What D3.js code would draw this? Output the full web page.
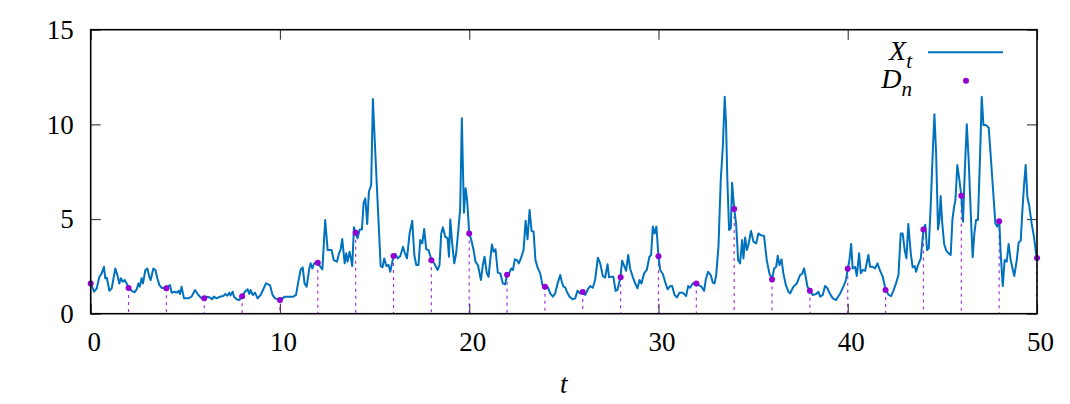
<!DOCTYPE html>
<html>
<head>
<meta charset="utf-8">
<script src="https://cdn.jsdelivr.net/npm/d3@7"></script>
<style>
  body { margin: 0; background: #fff; }
  svg { display: block; font-family: "Liberation Serif", "DejaVu Serif", serif; }
</style>
</head>
<body>
<div id="chart"></div>
<script>
// time grid of the X_t trace
const tSeries = [
  0, 0.18, 0.32, 0.46, 0.58, 0.7, 0.77, 0.85, 0.99, 1.11, 1.3, 1.41, 1.51, 1.6, 1.69, 1.8, 1.9,
  2.0, 2.17, 2.31, 2.43, 2.52, 2.59, 2.69, 2.76, 2.89, 2.99, 3.1, 3.17, 3.31, 3.42, 3.52, 3.63, 3.75, 3.87, 3.98,
  4.1, 4.19, 4.28, 4.42, 4.54, 4.65, 4.72, 4.8, 4.93, 5.16, 5.33, 5.51, 5.69, 5.86,
  6.0, 6.13, 6.3, 6.41, 6.51, 6.65, 6.83, 7.0, 7.11, 7.22, 7.32, 7.39, 7.5, 7.57, 7.71, 7.85,
  8.0, 8.15, 8.29, 8.38, 8.45, 8.56, 8.68, 8.82, 8.98, 9.12, 9.26, 9.47, 9.61, 9.74,
  10.0, 10.26, 10.7, 10.85, 10.97, 11.09, 11.2, 11.3, 11.41, 11.55, 11.62, 11.71, 11.81,
  12.0, 12.13, 12.24, 12.39, 12.52, 12.61, 12.73, 12.84, 13.01, 13.12, 13.2, 13.29, 13.42, 13.5, 13.57, 13.68, 13.75, 13.82, 13.91,
  14.0, 14.1, 14.21, 14.33, 14.42, 14.51, 14.61, 14.7, 14.82, 14.91, 15.04, 15.18, 15.32, 15.42, 15.51, 15.62, 15.74, 15.83,
  16.0, 16.11, 16.22, 16.36, 16.5, 16.58, 16.71, 16.85, 16.99, 17.1, 17.2, 17.32, 17.41, 17.52, 17.62, 17.73, 17.85,
  18.01, 18.15, 18.33, 18.43, 18.52, 18.61, 18.73, 18.86, 18.93, 19.0, 19.1, 19.21, 19.31, 19.44, 19.52, 19.61, 19.72, 19.81, 19.89,
  20.0, 20.11, 20.23, 20.33, 20.46, 20.62, 20.72, 20.81, 20.93, 21.02, 21.11, 21.2, 21.29, 21.39, 21.51, 21.64, 21.78, 21.9,
  22.0, 22.11, 22.22, 22.31, 22.41, 22.52, 22.62, 22.73, 22.87, 22.98, 23.08, 23.19, 23.29, 23.4, 23.5, 23.63, 23.75, 23.87,
  24.0, 24.14, 24.28, 24.42, 24.54, 24.67, 24.81, 24.89, 24.98, 25.07, 25.16, 25.3, 25.46, 25.6, 25.72, 25.86,
  26.0, 26.13, 26.27, 26.39, 26.53, 26.65, 26.8, 26.92, 27.06, 27.18, 27.31, 27.39, 27.5, 27.62, 27.73, 27.83,
  27.99, 28.08, 28.19, 28.29, 28.4, 28.5, 28.64, 28.77, 28.89, 29.0, 29.1, 29.24, 29.38, 29.52, 29.61, 29.7, 29.79, 29.89,
  30.0, 30.09, 30.23, 30.35, 30.48, 30.62, 30.72, 30.85, 30.97, 31.11, 31.29, 31.46, 31.57, 31.67, 31.81,
  31.99, 32.13, 32.27, 32.41, 32.5, 32.62, 32.76, 32.87, 32.96, 33.05, 33.17, 33.29, 33.4, 33.5, 33.57, 33.64, 33.73, 33.82, 33.89,
  34.0, 34.1, 34.21, 34.31, 34.42, 34.49, 34.58, 34.67, 34.75, 34.89, 35.02, 35.16, 35.28, 35.4, 35.58, 35.72, 35.86,
  36.0, 36.11, 36.22, 36.3, 36.39, 36.5, 36.6, 36.73, 36.87, 36.95, 37.13, 37.31, 37.48, 37.59, 37.69, 37.78, 37.87,
  38.01, 38.15, 38.33, 38.45, 38.54, 38.68, 38.8, 38.93, 39.03, 39.21, 39.38, 39.6, 39.77, 39.91,
  40.0, 40.09, 40.18, 40.26, 40.39, 40.48, 40.6, 40.69, 40.79, 40.92, 41.09, 41.18, 41.32, 41.44, 41.57, 41.71, 41.85,
  42.0, 42.17, 42.29, 42.41, 42.55, 42.68, 42.8, 42.9, 43.01, 43.1, 43.2, 43.33, 43.43, 43.54, 43.61, 43.73, 43.86,
  44.0, 44.1, 44.19, 44.28, 44.38, 44.49, 44.58, 44.67, 44.77, 44.84, 44.91, 44.98, 45.09, 45.19, 45.33, 45.44, 45.53, 45.62, 45.69, 45.79, 45.9,
  46.0, 46.09, 46.18, 46.29, 46.39, 46.5, 46.6, 46.69, 46.78, 46.88, 46.99, 47.08, 47.17, 47.31, 47.45, 47.57, 47.69, 47.8, 47.9,
  48.01, 48.08, 48.19, 48.29, 48.4, 48.5, 48.61, 48.71, 48.8, 48.93, 49.03, 49.14, 49.23, 49.31, 49.4, 49.49, 49.59, 49.72, 49.84, 49.98
];

// X_t values, same order as tSeries
const xSeries = [
  1.6, 1.16, 1.34, 1.95, 2.13, 2.48, 1.87, 1.9, 1.21, 1.34, 2.39, 2.04, 1.6, 1.87, 1.69, 1.78, 1.6,
  1.36, 1.21, 1.13, 1.29, 1.6, 1.43, 1.87, 1.6, 2.31, 2.39, 1.95, 1.78, 2.39, 2.31, 1.87, 1.51, 1.37, 1.34, 1.34,
  1.46, 1.51, 1.11, 1.16, 1.11, 1.21, 1.04, 1.43, 0.81, 0.81, 0.9, 1.25, 0.99, 0.81,
  0.81, 0.9, 0.86, 0.76, 0.9, 0.81, 0.9, 0.93, 1.04, 0.95, 1.11, 0.97, 1.16, 0.9, 0.76, 0.72,
  0.9, 1.16, 1.29, 1.04, 1.25, 0.99, 1.11, 0.81, 0.99, 1.29, 1.6, 1.51, 0.99, 0.81,
  0.72, 0.9, 0.9, 0.99, 1.69, 2.31, 2.45, 1.6, 1.43, 2.39, 2.66, 2.39, 2.66,
  2.69, 2.48, 2.34, 4.95, 3.36, 3.36, 3.36, 2.83, 2.75, 3.19, 3.36, 3.94, 2.66, 3.19, 2.75, 3.27, 2.92, 2.52, 4.56,
  4.28, 3.98, 4.45, 4.45, 5.86, 6.09, 4.74, 6.44, 6.8, 11.34, 8.47, 5.48, 2.52, 2.45, 2.92, 2.52, 2.57, 2.22,
  3.05, 3.15, 2.92, 3.05, 3.54, 3.27, 2.92, 4.24, 4.91, 3.1, 2.57, 2.57, 3.89, 3.71, 4.47, 3.4, 3.36,
  2.82, 2.66, 2.31, 2.57, 4.24, 4.56, 4.07, 3.98, 3.01, 4.98, 3.71, 2.66, 3.19, 4.6, 5.48, 10.32, 5.33, 6.62, 6.0,
  4.24, 3.89, 3.36, 2.75, 2.57, 1.78, 2.57, 3.01, 2.13, 1.95, 2.83, 3.66, 3.27, 3.4, 2.17, 2.13, 1.6, 1.55,
  2.06, 2.13, 2.39, 2.31, 2.87, 2.83, 2.66, 2.92, 3.36, 4.91, 3.93, 5.48, 4.38, 4.33, 2.83, 2.39, 2.13, 1.51,
  1.43, 1.43, 1.07, 0.9, 1.07, 1.6, 2.04, 1.69, 1.43, 1.39, 1.16, 0.9, 0.76, 0.81, 1.21, 1.07,
  1.14, 0.99, 1.29, 1.46, 1.37, 1.78, 2.96, 2.66, 1.99, 1.9, 2.61, 1.92, 1.95, 1.95, 1.21, 1.25,
  1.92, 2.8, 2.52, 2.27, 3.1, 2.39, 1.95, 1.6, 1.34, 1.78, 1.6, 2.13, 2.31, 3.01, 3.1, 4.6, 4.24, 4.6,
  3.03, 2.31, 2.1, 1.69, 1.29, 1.46, 1.46, 0.99, 0.86, 1.11, 1.11, 0.93, 1.46, 1.37, 1.6,
  1.6, 1.51, 1.43, 1.21, 1.81, 2.22, 2.04, 1.64, 1.6, 2.04, 3.54, 7.06, 8.82, 11.46, 10.05, 7.06, 4.42, 4.51, 6.92,
  5.53, 4.77, 2.83, 2.66, 3.89, 2.92, 4.03, 3.36, 3.63, 4.37, 3.8, 3.71, 4.24, 4.15, 4.1, 2.83, 2.13,
  1.8, 2.39, 2.48, 3.06, 2.57, 2.87, 2.13, 1.51, 1.16, 1.07, 1.43, 1.6, 2.04, 2.1, 2.39, 1.95, 1.43,
  1.21, 0.99, 1.04, 1.16, 0.9, 0.99, 1.46, 1.34, 1.11, 0.81, 0.72, 1.07, 1.43, 1.78,
  2.38, 2.83, 3.68, 2.39, 2.48, 1.99, 3.19, 2.13, 2.31, 2.27, 3.1, 2.48, 2.48, 2.39, 2.66, 2.27, 1.95,
  1.25, 0.99, 0.93, 1.21, 1.6, 2.04, 4.24, 4.24, 3.36, 2.92, 4.74, 3.19, 2.45, 2.52, 2.22, 2.61, 2.92,
  4.45, 4.7, 3.36, 3.45, 5.65, 8.47, 10.53, 8.47, 4.45, 4.95, 6.21, 4.95, 3.71, 3.36, 3.19, 3.1, 4.95, 5.65, 6.0, 7.85, 7.06,
  6.23, 4.86, 7.41, 10.0, 8.12, 5.3, 2.98, 4.24, 4.95, 4.95, 8.29, 11.46, 9.96, 9.96, 9.82, 8.12, 6.36, 4.77, 4.6,
  4.88, 3.19, 1.46, 2.83, 2.75, 3.68, 2.83, 2.39, 1.99, 2.83, 3.75, 3.86, 5.48, 6.71, 7.85, 6.18, 5.69, 4.74, 4.07, 2.94
];

// sampled points D_n at the even times
const nTimes = [0, 2, 4, 6, 8, 10, 12, 14, 16, 18, 20, 22, 24, 26, 28, 30, 32, 34, 36, 38, 40, 42, 44, 46, 48, 50];
const dValues = [1.6, 1.36, 1.34, 0.81, 0.92, 0.72, 2.69, 4.28, 3.05, 2.82, 4.24, 2.06, 1.43, 1.14, 1.92, 3.03, 1.6, 5.53, 1.8, 1.21, 2.38, 1.25, 4.45, 6.23, 4.88, 2.94];

const xTicks = [0, 10, 20, 30, 40, 50];
const yTicks = [0, 5, 10, 15];

const W = 1070, H = 404;
const plotLeft = 90.7, plotRight = 1037, plotTop = 29.7, plotBottom = 313.7;
const lineColor = "#0072bd";
const pointColor = "#9400d3";

const svg = d3.select("#chart").append("svg").attr("width", W).attr("height", H);

const xScale = d3.scaleLinear().domain([0, 50]).range([plotLeft, plotRight]);
const yScale = d3.scaleLinear().domain([0, 15]).range([plotBottom, plotTop]);

// inward ticks on all four sides, labels only bottom and left
const xAxis = d3.axisBottom(xScale).tickValues(xTicks).tickSize(-10).tickPadding(18).tickFormat(d3.format("d"));
const yAxis = d3.axisLeft(yScale).tickValues(yTicks).tickSize(-10).tickPadding(17).tickFormat(d3.format("d"));
const xAxisTop = d3.axisTop(xScale).tickValues(xTicks).tickSize(-10).tickFormat("");
const yAxisRight = d3.axisRight(yScale).tickValues(yTicks).tickSize(-10).tickFormat("");

function styleAxis(g) {
  g.select(".domain").remove();
  g.selectAll(".tick line").attr("stroke", "#444").attr("stroke-width", 1.2);
  g.selectAll(".tick text").attr("fill", "#000").style("font-size", "27px").style("font-family", "Liberation Serif");
}

svg.append("g").attr("transform", "translate(0," + plotBottom + ")").call(xAxis).call(styleAxis)
  .selectAll(".tick text").attr("dx", 3);
svg.append("g").attr("transform", "translate(" + plotLeft + ",0)").call(yAxis).call(styleAxis);
svg.append("g").attr("transform", "translate(0," + plotTop + ")").call(xAxisTop).call(styleAxis);
svg.append("g").attr("transform", "translate(" + plotRight + ",0)").call(yAxisRight).call(styleAxis);

// drop lines from D_n down to zero
svg.append("g")
  .selectAll("line")
  .data(nTimes)
  .enter()
  .append("line")
  .attr("x1", d => xScale(d))
  .attr("x2", d => xScale(d))
  .attr("y1", (d, i) => yScale(dValues[i]))
  .attr("y2", yScale(0))
  .attr("stroke", pointColor)
  .attr("stroke-width", 1.2)
  .attr("stroke-dasharray", "3,4")
  .attr("opacity", 0.8);

const line = d3.line()
  .x((d, i) => xScale(tSeries[i]))
  .y(d => yScale(d));

svg.append("path")
  .datum(xSeries)
  .attr("d", line)
  .attr("fill", "none")
  .attr("stroke", lineColor)
  .attr("stroke-width", 2)
  .attr("stroke-linejoin", "round");

svg.append("g")
  .selectAll("circle")
  .data(nTimes)
  .enter()
  .append("circle")
  .attr("cx", d => xScale(d))
  .attr("cy", (d, i) => yScale(dValues[i]))
  .attr("r", 3)
  .attr("fill", pointColor);

// frame
svg.append("rect")
  .attr("x", plotLeft)
  .attr("y", plotTop)
  .attr("width", plotRight - plotLeft)
  .attr("height", plotBottom - plotTop)
  .attr("fill", "none")
  .attr("stroke", "#000")
  .attr("stroke-width", 1.6);

// legend
const legend = svg.append("g").style("font-style", "italic").style("font-family", "Liberation Serif");
const lx = legend.append("text").attr("x", 912).attr("y", 60).attr("text-anchor", "end").style("font-size", "28px");
lx.append("tspan").text("X");
lx.append("tspan").attr("dy", 8).style("font-size", "21px").text("t");
legend.append("line")
  .attr("x1", 928).attr("x2", 1003).attr("y1", 52.3).attr("y2", 52.3)
  .attr("stroke", lineColor).attr("stroke-width", 2);

const ld = legend.append("text").attr("x", 912).attr("y", 88).attr("text-anchor", "end").style("font-size", "28px");
ld.append("tspan").text("D");
ld.append("tspan").attr("dy", 8).style("font-size", "21px").text("n");
legend.append("circle").attr("cx", 966).attr("cy", 80.7).attr("r", 3).attr("fill", pointColor);

// x axis title
svg.append("text")
  .attr("x", (plotLeft + plotRight) / 2)
  .attr("y", 393)
  .attr("text-anchor", "middle")
  .style("font-style", "italic")
  .style("font-size", "27px")
  .text("t");
</script>
</body>
</html>
